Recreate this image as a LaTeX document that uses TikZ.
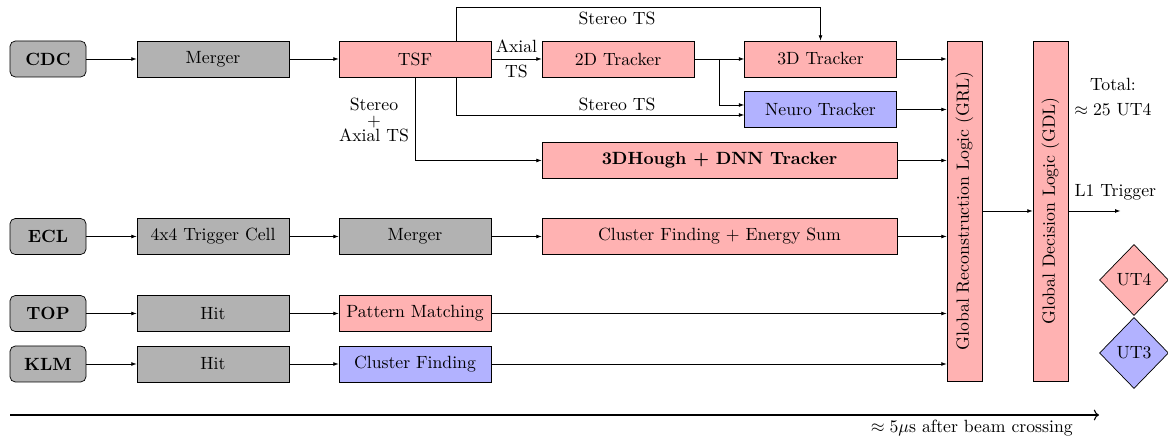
\documentclass[tikz,border=0pt]{standalone}
\usetikzlibrary{arrows.meta,shapes.geometric,calc}
\def\pxu{0.565pt}
\begin{document}
\begin{tikzpicture}[x=0.565pt,y=-0.565pt,
  box/.style={draw, rectangle, minimum width=152*\pxu, minimum height=36*\pxu, inner sep=1pt},
  det/.style={box, rounded corners=3pt, minimum width=76*\pxu, fill=black!30, font=\bfseries},
  gbox/.style={box, fill=black!30},
  rbox/.style={box, fill=red!30},
  bbox/.style={box, fill=blue!30},
  glob/.style={draw, fill=red!30, minimum width=340*\pxu, minimum height=35*\pxu, inner sep=1pt, rotate=90},
  utd/.style={diamond, draw, minimum width=69*\pxu, minimum height=71*\pxu, inner sep=0pt},
  arr/.style={-{Latex[length=3pt,width=2.2pt]}},
]
\useasboundingbox (0,0) rectangle (1168,437);

% CDC row
\node[det]  (cdc)     at (48,59)    {CDC};
\node[gbox] (cmerger) at (213,59)   {Merger};
\node[rbox] (tsf)     at (415,59)   {TSF};
\node[rbox] (t2d)     at (618,59)   {2D Tracker};
\node[rbox] (t3d)     at (820.5,59) {3D Tracker};
\node[bbox] (neuro)   at (820.5,109.5) {Neuro Tracker};
\node[rbox, minimum width=355*\pxu, font=\bfseries] (hough) at (719.5,160.5) {3DHough + DNN Tracker};

% ECL row
\node[det]  (ecl)     at (48,236.5)  {ECL};
\node[gbox] (tc)      at (213,236.5) {4x4 Trigger Cell};
\node[gbox] (emerger) at (415,236.5) {Merger};
\node[rbox, minimum width=355*\pxu] (cfes) at (719.5,236.5) {Cluster Finding + Energy Sum};

% TOP row
\node[det]  (top)     at (48,313.5)  {TOP};
\node[gbox] (thit)    at (213,313.5) {Hit};
\node[rbox] (pm)      at (415,313.5) {Pattern Matching};

% KLM row
\node[det]  (klm)     at (48,364)  {KLM};
\node[gbox] (khit)    at (213,364) {Hit};
\node[bbox] (kcf)     at (415,364) {Cluster Finding};

% Global logic
\node[glob] (grl) at (964.5,211)  {Global Reconstruction Logic (GRL)};
\node[glob] (gdl) at (1050.5,211) {Global Decision Logic (GDL)};

% Connectors CDC
\draw[arr] (cdc) -- (cmerger);
\draw[arr] (cmerger) -- (tsf);
\draw[arr] (tsf) -- node[above] {Axial} node[below] {TS} (t2d);
\draw[arr] (t2d) -- (t3d);
\draw[arr] ([xshift=25*\pxu]t2d.east) |- ([yshift=4.5*\pxu]neuro.west);
\draw[arr] ([xshift=41*\pxu]tsf.south) |- ([yshift=-5.5*\pxu]neuro.west);
\draw[arr] ([xshift=41*\pxu]tsf.north) -- ++(0,-33) -| (t3d.north);
\draw[arr] (tsf.south) |- (hough.west);

\node (lst1) at (617,18)  {Stereo TS};
\node (lst2) at (617,104) {Stereo TS};
\node[align=center] (lsat) at (374,120) {Stereo\\[-3pt]+\\[-3pt]Axial TS};

% Other rows
\draw[arr] (ecl) -- (tc);
\draw[arr] (tc) -- (emerger);
\draw[arr] (emerger) -- (cfes);
\draw[arr] (top) -- (thit);
\draw[arr] (thit) -- (pm);
\draw[arr] (klm) -- (khit);
\draw[arr] (khit) -- (kcf);

% To GRL
\foreach \n in {t3d,neuro,hough,cfes,pm,kcf}
  \draw[arr] (\n) -- (\n -| grl.north);
\draw[arr] (grl) -- (gdl);
\draw[arr] (gdl.south) -- ++(52,0) coordinate (l1end);
\node[anchor=south west, yshift=2.5pt] (l1) at (gdl.south) {L1 Trigger};

\node[align=center] (total) at (1113,97) {Total:\\[2pt]$\approx 25$ UT4};

\node[utd, fill=red!30]  (ut4) at (1134,280) {UT4};
\node[utd, fill=blue!30] (ut3) at (1134,353) {UT3};

% Time axis
\coordinate (tstart) at (10,415);
\coordinate (tend) at (1099,415);
\draw[semithick,->] (tstart) -- (tend);
\node[anchor=east] (tlabel) at (1079,428) {$\approx 5\mu$s after beam crossing};
\end{tikzpicture}
\end{document}
